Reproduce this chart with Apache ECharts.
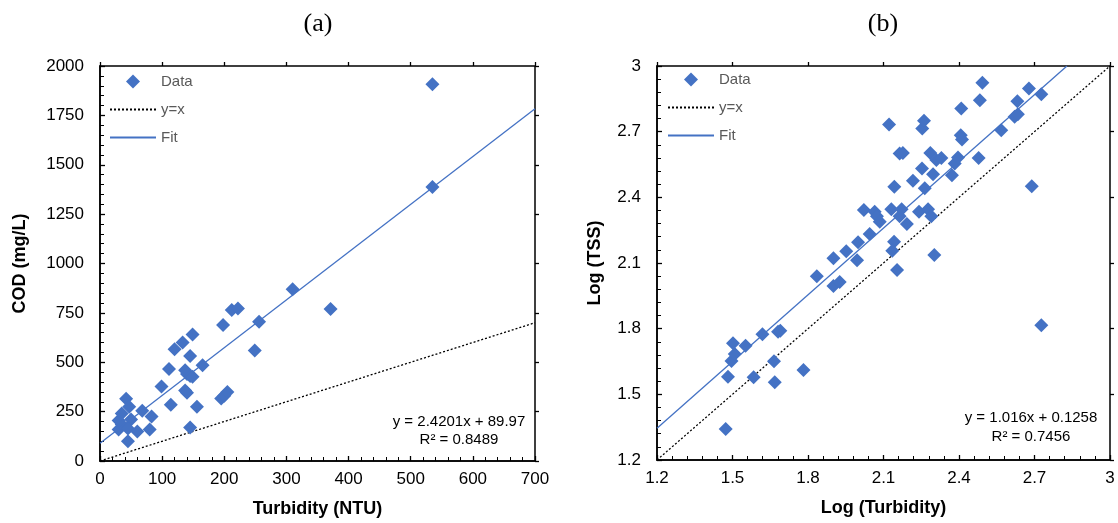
<!DOCTYPE html>
<html><head><meta charset="utf-8">
<script src="https://cdn.jsdelivr.net/npm/echarts@6/dist/echarts.min.js"></script>
<style>html,body{margin:0;padding:0;background:#fff}#c{width:1118px;height:523px}</style>
</head><body><div id="c"></div>
<script>
// Panel (a): Turbidity (NTU) vs COD (mg/L)
const dataA = [[30,160],[35,185],[30,205],[35,240],[42,315],[47,275],[50,210],[45,165],[45,100],[60,150],
 [68,255],[80,160],[83,225],[99,377],[111,466],[114,285],[120,566],[133,600],[137,460],[140,440],
 [137,357],[140,346],[145,532],[145,430],[149,641],[149,427],[145,170],[156,275],[165,485],[195,316],
 [200,330],[205,350],[198,688],[212,765],[222,772],[249,559],[256,705],[310,870],[371,769],[535,1387],[535,1907]];
// Panel (b): Log(Turbidity) vs Log(TSS)
const dataB = [[1.473,1.342],[1.482,1.580],[1.496,1.652],[1.509,1.684],[1.502,1.733],[1.552,1.722],[1.584,1.578],
 [1.619,1.775],[1.665,1.651],[1.668,1.555],[1.681,1.786],[1.690,1.790],[1.782,1.611],[1.835,2.040],[1.901,2.122],
 [1.901,1.995],[1.926,2.013],[1.952,2.154],[1.995,2.113],[1.999,2.195],[2.045,2.232],[2.022,2.342],[2.065,2.334],
 [2.074,2.314],[2.085,2.288],[2.131,2.345],[2.164,2.314],[2.172,2.345],[2.193,2.278],[2.142,2.197],[2.135,2.156],
 [2.154,2.068],[2.143,2.448],[2.217,2.476],[2.241,2.334],[2.277,2.345],[2.290,2.314],[2.302,2.136],[2.264,2.441],
 [2.253,2.532],[2.297,2.505],[2.286,2.603],[2.310,2.570],[2.330,2.580],[2.372,2.501],[2.383,2.555],[2.396,2.582],
 [2.478,2.580],[2.164,2.600],[2.177,2.603],[2.122,2.733],[2.254,2.715],[2.261,2.750],[2.407,2.684],[2.412,2.664],
 [2.409,2.806],[2.483,2.844],[2.493,2.923],[2.568,2.707],[2.621,2.768],[2.634,2.779],[2.632,2.839],[2.678,2.897],
 [2.727,2.871],[2.689,2.451],[2.727,1.816]];
const fitA = {slope: 2.4201, intercept: 89.97, r2: '0.8489'};
const fitB = {slope: 1.016, intercept: 0.1258, r2: '0.7456'};
const rangeA = {xmin: 0, xmax: 700, xint: 100, ymin: 0, ymax: 2000, yint: 250};
const rangeB = {xmin: 1.2, xmax: 3, xint: 0.3, ymin: 1.2, ymax: 3, yint: 0.3};
const titles = ['(a)', '(b)'];
const xNames = ['Turbidity (NTU)', 'Log (Turbidity)'];
const yNames = ['COD (mg/L)', 'Log (TSS)'];
const legendNames = ['Data', 'y=x', 'Fit'];
const eqA = 'y = 2.4201x + 89.97';
const eqB = 'y = 1.016x + 0.1258';

const BLUE = '#4472C4';
const fitLine = (f, r) => {
  const x1 = r.xmin;
  let x2 = r.xmax, y2 = f.slope * x2 + f.intercept;
  if (y2 > r.ymax) { x2 = (r.ymax - f.intercept) / f.slope; y2 = r.ymax; }
  return [[x1, f.slope * x1 + f.intercept], [x2, y2]];
};
const idLine = r => [[r.xmin, r.xmin], [r.xmax, r.xmax]];
const dec = v => (Math.round(v * 10) / 10).toString();

const grids = [
  {left: 100, top: 66, width: 435, height: 395},
  {left: 657, top: 66, width: 453, height: 394}
];
const ranges = [rangeA, rangeB];
const lblFont = {fontFamily: 'Liberation Sans, Arial, sans-serif', fontSize: 17, color: '#000'};
const nameFont = {fontFamily: 'Liberation Sans, Arial, sans-serif', fontSize: 18, fontWeight: 'bold', color: '#000'};

const xAxis = [], yAxis = [];
grids.forEach((g, i) => {
  const r = ranges[i];
  const fmt = i === 0 ? (v => String(v)) : dec;
  xAxis.push({
    type: 'value', gridIndex: i, min: r.xmin, max: r.xmax, interval: r.xint,
    name: xNames[i], nameLocation: 'middle', nameGap: 39, nameTextStyle: nameFont,
    axisLine: {show: true, onZero: false, lineStyle: {color: '#000', width: 1.5}},
    axisTick: {show: true, inside: true, length: 5, lineStyle: {color: '#000', width: 1.3}},
    minorTick: {show: true, splitNumber: 5, length: 4, lineStyle: {color: '#000', width: 1}},
    axisLabel: {...lblFont, margin: 10, formatter: fmt},
    splitLine: {show: false}
  });
  yAxis.push({
    type: 'value', gridIndex: i, min: r.ymin, max: r.ymax, interval: r.yint,
    name: yNames[i], nameLocation: 'middle', nameGap: i === 0 ? 71 : 53, nameTextStyle: nameFont,
    axisLine: {show: true, onZero: false, lineStyle: {color: '#000', width: 1.5}},
    axisTick: {show: true, inside: true, length: 5, lineStyle: {color: '#000', width: 1.3}},
    minorTick: {show: true, splitNumber: 5, length: 4, lineStyle: {color: '#000', width: 1}},
    axisLabel: {...lblFont, margin: 16, formatter: fmt},
    splitLine: {show: false}
  });
});
// outside parts of the crossing major ticks
grids.forEach((g, i) => {
  const r = ranges[i];
  xAxis.push({type: 'value', gridIndex: i, min: r.xmin, max: r.xmax, interval: r.xint,
    axisLine: {show: false, onZero: false}, axisLabel: {show: false}, splitLine: {show: false},
    axisTick: {show: true, inside: false, length: 4, lineStyle: {color: '#000', width: 1.3}}});
  yAxis.push({type: 'value', gridIndex: i, min: r.ymin, max: r.ymax, interval: r.yint,
    axisLine: {show: false, onZero: false}, axisLabel: {show: false}, splitLine: {show: false},
    axisTick: {show: true, inside: false, length: 4, lineStyle: {color: '#000', width: 1.3}}});
});

const datasets = [dataA, dataB];
const fits = [fitA, fitB];
const series = [];
[0, 1].forEach(i => {
  series.push({name: legendNames[0], type: 'scatter', xAxisIndex: i, yAxisIndex: i, data: datasets[i],
    symbol: 'diamond', symbolSize: 14, itemStyle: {color: BLUE, opacity: 1}, z: 3});
  series.push({name: legendNames[1], type: 'line', xAxisIndex: i, yAxisIndex: i, data: idLine(ranges[i]),
    symbol: 'none', lineStyle: {color: '#000', width: 1.3, type: [2, 2]}, itemStyle: {color: '#000'}, z: 2});
  series.push({name: legendNames[2], type: 'line', xAxisIndex: i, yAxisIndex: i, data: fitLine(fits[i], ranges[i]),
    symbol: 'none', lineStyle: {color: BLUE, width: 1.3}, itemStyle: {color: BLUE}, z: 2});
});

const hidden = {color: 'rgba(0,0,0,0)', borderColor: 'rgba(0,0,0,0)', borderWidth: 0, opacity: 0};
const legendCommon = {orient: 'vertical', itemWidth: 46, itemHeight: 14, itemGap: 13,
  textStyle: {fontFamily: 'Liberation Sans, Arial, sans-serif', fontSize: 15, color: '#595959'},
  data: [
    {name: legendNames[0], icon: 'path://M0,-1L1,0L0,1L-1,0Z', itemStyle: {opacity: 1}},
    {name: legendNames[1], itemStyle: hidden},
    {name: legendNames[2], itemStyle: hidden}
  ], symbolKeepAspect: true, selectedMode: false};

const eqStyle = {fontFamily: 'Liberation Sans, Arial, sans-serif', fontSize: 15, fill: '#000', textAlign: 'center', textVerticalAlign: 'middle'};
const titleStyle = {fontFamily: 'Liberation Serif, Times New Roman, serif', fontSize: 26, fill: '#000', textAlign: 'center', textVerticalAlign: 'middle'};

const option = {
  animation: false,
  backgroundColor: '#fff',
  grid: grids.map(g => ({...g, show: true, borderColor: '#000', borderWidth: 1.5, backgroundColor: 'transparent'})),
  xAxis, yAxis, series,
  legend: [
    {...legendCommon, left: 104, top: 69},
    {...legendCommon, left: 662, top: 67}
  ],
  graphic: [
    {type: 'text', style: {...titleStyle, text: titles[0], x: 318, y: 24}},
    {type: 'text', style: {...titleStyle, text: titles[1], x: 883, y: 24}},
    {type: 'text', style: {...eqStyle, text: eqA, x: 459, y: 422}},
    {type: 'text', style: {...eqStyle, text: 'R² = ' + fitA.r2, x: 459, y: 440}},
    {type: 'text', style: {...eqStyle, text: eqB, x: 1031, y: 418}},
    {type: 'text', style: {...eqStyle, text: 'R² = ' + fitB.r2, x: 1031, y: 437}}
  ]
};
const chart = echarts.init(document.getElementById('c'), null, {renderer: 'canvas'});
chart.setOption(option);
</script></body></html>
